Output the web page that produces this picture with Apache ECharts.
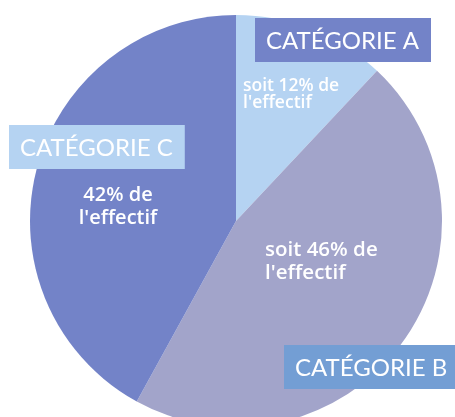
<!DOCTYPE html>
<html>
<head>
<meta charset="utf-8">
<script src="https://cdn.jsdelivr.net/npm/echarts@6/dist/echarts.min.js"></script>
<style>html,body{margin:0;padding:0;background:#fff}#c{width:455px;height:417px}</style>
</head>
<body>
<div id="c"></div>
<script>
const categories = ['CATÉGORIE A', 'CATÉGORIE B', 'CATÉGORIE C'];
const shares = [12, 46, 42];
const notePrefix = ['soit ', 'soit ', ''];

const sliceColors = ['#b5d3f2', '#a2a4ca', '#7383c8'];
const boxColors = ['#7383c8', '#739ed4', '#b5d3f2'];
const boxPos = [[255, 18], [284, 345], [9, 125]];
const notePos = [[243, 78], [265, 239], [118, 184]];
const noteAlign = ['left', 'left', 'center'];
const noteSize = [17.5, 20.5, 20];
const noteLine = [17, 23, 23];

const FONT = 'Lato, "Noto Sans", sans-serif';
const NOTE_FONT = '"Open Sans", "Noto Sans", sans-serif';
const center = [236, 221];
const radius = 206;

const chart = echarts.init(document.getElementById('c'), null, {renderer: 'canvas'});

const sliceData = categories.map((c, i) => ({
  name: c, value: shares[i],
  itemStyle: {color: sliceColors[i]},
  label: {
    formatter: notePrefix[i] + shares[i] + '% de\nl\'effectif',
    fontSize: noteSize[i], lineHeight: noteLine[i], align: noteAlign[i]
  }
}));
const boxData = categories.map((c, i) => ({
  name: c, value: shares[i],
  label: {backgroundColor: boxColors[i]}
}));

chart.setOption({
  animation: false,
  series: [
    {
      type: 'pie', center: center, radius: radius, startAngle: 90, clockwise: true,
      silent: true, data: sliceData,
      itemStyle: {borderWidth: 0},
      label: {show: true, position: 'inside', color: '#fff', fontFamily: NOTE_FONT, fontWeight: 600},
      labelLine: {show: false},
      labelLayout: p => ({x: notePos[p.dataIndex][0], y: notePos[p.dataIndex][1], align: noteAlign[p.dataIndex], verticalAlign: 'top'})
    },
    {
      type: 'pie', center: center, radius: radius, startAngle: 90, clockwise: true,
      silent: true, data: boxData,
      itemStyle: {color: 'rgba(0,0,0,0)', borderWidth: 0},
      label: {show: true, position: 'inside', color: '#fff', fontFamily: FONT, fontSize: 24, lineHeight: 26,
        padding: [10, 12, 8, 11], formatter: '{b}'},
      labelLine: {show: false},
      labelLayout: p => ({x: boxPos[p.dataIndex][0], y: boxPos[p.dataIndex][1], align: 'left', verticalAlign: 'top'})
    }
  ]
});
</script>
</body>
</html>
